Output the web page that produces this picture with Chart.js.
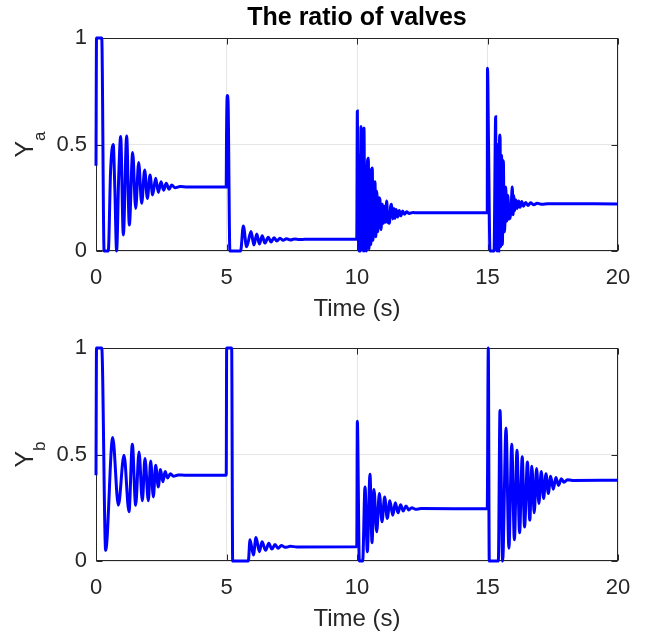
<!DOCTYPE html>
<html>
<head>
<meta charset="utf-8">
<script src="https://cdn.jsdelivr.net/npm/chart.js@4"></script>
<style>
  body { margin: 0; background: #fff; }
  #wrap { position: relative; width: 649px; height: 634px; }
  canvas { position: absolute; left: 0; }
</style>
</head>
<body>
<div id="wrap">
  <canvas id="bottomChart" width="649" height="317" style="top:317px"></canvas>
  <canvas id="topChart" width="649" height="338" style="top:0"></canvas>
</div>
<script>
// Y_a (valve a)
const timeA = [
  0, 0.02, 0.22, 0.31, 0.47, 0.56, 0.66, 0.72, 0.79, 0.87, 0.945, 1.047, 1.175, 1.277, 1.405, 1.52,
  1.635, 1.75, 1.865, 1.967, 2.07, 2.17, 2.286, 2.39, 2.49, 2.59, 2.69, 2.80, 2.90, 3.03, 3.22, 3.5, 4.99,
  5.0, 5.03, 5.06, 5.13, 5.54, 5.645, 5.77, 5.94, 6.05, 6.16, 6.26, 6.37, 6.47, 6.6, 6.71, 6.82, 6.93,
  7.05, 7.17, 7.3, 7.45, 7.6, 7.8, 8.0, 9.99,
  10.013, 10.05, 10.08, 10.11, 10.13, 10.153, 10.18, 10.21, 10.24, 10.268, 10.30, 10.33, 10.36, 10.40,
  10.434, 10.46, 10.50, 10.53, 10.56, 10.587, 10.61, 10.65, 10.689, 10.72, 10.76, 10.80, 10.84, 10.88,
  10.92, 10.97, 11.01, 11.06, 11.10, 11.136, 11.18, 11.24, 11.29, 11.327, 11.37, 11.42, 11.455, 11.50,
  11.56, 11.62, 11.68, 11.75, 11.82, 11.9, 12.0, 12.15, 12.3, 14.99,
  15.0, 15.04, 15.096, 15.25, 15.313, 15.34, 15.37, 15.40, 15.43, 15.46, 15.48, 15.51, 15.54, 15.57,
  15.607, 15.64, 15.67, 15.70, 15.74, 15.78, 15.82, 15.87, 15.91, 15.95, 15.98, 16.01, 16.05, 16.09,
  16.14, 16.19, 16.25, 16.31, 16.38, 16.46, 16.55, 16.65, 16.78, 16.9, 17.1, 17.3, 20
];
const valueA = [
  0.40, 1, 1, 0, 0, 0.38, 0.50, 0.30, 0, 0.35, 0.537, 0.075, 0.54, 0.122, 0.462, 0.20,
  0.415, 0.224, 0.38, 0.247, 0.357, 0.263, 0.341, 0.275, 0.325, 0.285, 0.318, 0.29, 0.31, 0.297, 0.303, 0.30, 0.30,
  0.53, 0.73, 0.70, 0, 0, 0.117, 0.02, 0.091, 0.028, 0.08, 0.033, 0.072, 0.037, 0.065, 0.042, 0.062, 0.047,
  0.06, 0.05, 0.058, 0.052, 0.056, 0.054, 0.055, 0.055,
  0.657, 0.10, 0, 0.45, 0, 0.584, 0.02, 0.50, 0, 0.577, 0, 0.40, 0, 0.42,
  0.435, 0.01, 0.38, 0.03, 0.36, 0.39, 0.05, 0.30, 0.325, 0.067, 0.28, 0.09, 0.25, 0.24,
  0.10, 0.22, 0.13, 0.21, 0.135, 0.235, 0.14, 0.13, 0.21, 0.22, 0.15, 0.20, 0.153, 0.195,
  0.16, 0.19, 0.165, 0.188, 0.172, 0.184, 0.176, 0.181, 0.179, 0.18,
  0.858, 0.5, 0, 0, 0.63, 0.1, 0, 0.5, 0, 0.52, 0.545, 0.02, 0.45, 0.03,
  0.424, 0.09, 0.138, 0.30, 0.14, 0.26, 0.15, 0.16, 0.22, 0.30, 0.17, 0.26, 0.19, 0.24,
  0.20, 0.235, 0.205, 0.232, 0.21, 0.228, 0.214, 0.226, 0.217, 0.224, 0.219, 0.222, 0.221
];

// Y_b (valve b)
const timeB = [
  0, 0.02, 0.22, 0.37, 0.64, 0.856, 1.073, 1.264, 1.392, 1.52, 1.648, 1.775, 1.877, 2.005, 2.095, 2.197,
  2.286, 2.388, 2.47, 2.56, 2.65, 2.74, 2.85, 2.97, 3.15, 3.4, 4.99,
  5.006, 5.198, 5.236, 5.837, 5.90, 6.03, 6.13, 6.26, 6.36, 6.5, 6.62, 6.74, 6.86, 6.98, 7.1, 7.25,
  7.45, 7.7, 9.99,
  10.013, 10.09, 10.217, 10.307, 10.396, 10.498, 10.575, 10.651, 10.754, 10.856, 10.958, 11.06, 11.16,
  11.26, 11.37, 11.47, 11.57, 11.67, 11.77, 11.88, 11.98, 12.1, 12.25, 12.45, 14.99,
  15.03, 15.07, 15.415, 15.479, 15.58, 15.71, 15.82, 15.93, 16.03, 16.13, 16.23, 16.33, 16.42, 16.53,
  16.62, 16.70, 16.79, 16.88, 16.97, 17.06, 17.15, 17.24, 17.33, 17.42, 17.52, 17.62, 17.72, 17.83,
  17.93, 18.06, 18.25, 20
];
const valueB = [
  0.403, 1, 1, 0.05, 0.58, 0.262, 0.497, 0.231, 0.548, 0.262, 0.512, 0.283, 0.481, 0.283, 0.47, 0.301,
  0.45, 0.348, 0.43, 0.372, 0.42, 0.39, 0.41, 0.398, 0.404, 0.403, 0.403,
  1, 1, 0, 0, 0.10, 0.028, 0.11, 0.044, 0.09, 0.05, 0.083, 0.056, 0.077, 0.06, 0.073, 0.064,
  0.069, 0.066, 0.067,
  0.656, 0, 0, 0.348, 0.044, 0.407, 0.086, 0.336, 0.137, 0.317, 0.184, 0.30, 0.20,
  0.283, 0.215, 0.273, 0.226, 0.264, 0.235, 0.258, 0.24, 0.25, 0.243, 0.246, 0.245,
  1, 0, 0, 0.707, 0, 0.624, 0.06, 0.548, 0.10, 0.52, 0.133, 0.489, 0.16, 0.465,
  0.192, 0.445, 0.226, 0.434, 0.27, 0.42, 0.294, 0.41, 0.317, 0.398, 0.337, 0.392, 0.355, 0.386,
  0.37, 0.382, 0.378, 0.379
];

const xTicks = [0, 5, 10, 15, 20];
const yTicks = [0, 0.5, 1];

const FONT = "'Liberation Sans', Arial, sans-serif";
const INK = '#262626';

// box, inner ticks and the texts (title, Time (s), Y with subscript)
const frame = {
  id: 'frame',
  beforeDatasetsDraw(chart, args, o) {
    const {ctx, chartArea: a, scales: {x, y}} = chart;
    const l = Math.round(a.left) + 0.5, r = Math.round(a.right) - 0.5;
    const t = Math.round(a.top) + 0.5, b = Math.round(a.bottom) - 0.5;
    ctx.save();
    ctx.strokeStyle = INK;
    ctx.lineWidth = 1;
    ctx.strokeRect(l, t, r - l, b - t);
    ctx.beginPath();
    for (const v of xTicks) {
      const px = Math.round(x.getPixelForValue(v)) + 0.5;
      ctx.moveTo(px, b); ctx.lineTo(px, b - 6);
      ctx.moveTo(px, t); ctx.lineTo(px, t + 6);
    }
    for (const v of yTicks) {
      const py = Math.round(y.getPixelForValue(v)) + 0.5;
      ctx.moveTo(l, py); ctx.lineTo(l + 6, py);
      ctx.moveTo(r, py); ctx.lineTo(r - 6, py);
    }
    ctx.stroke();
    ctx.restore();
  },
  afterDraw(chart, args, o) {
    const {ctx, chartArea: a} = chart;
    const cx = (a.left + a.right) / 2;
    const cy = (a.top + a.bottom) / 2;
    ctx.save();
    ctx.fillStyle = '#000';
    if (o.title) {
      ctx.font = 'bold 25px ' + FONT;
      ctx.textAlign = 'center';
      ctx.textBaseline = 'alphabetic';
      ctx.fillText(o.title, cx, o.titleY);
    }
    ctx.fillStyle = INK;
    ctx.font = '24px ' + FONT;
    ctx.textAlign = 'center';
    ctx.textBaseline = 'alphabetic';
    ctx.fillText('Time (s)', cx, a.bottom + 65);

    // rotated Y label with subscript
    ctx.font = '25px ' + FONT;
    const wY = ctx.measureText('Y').width;
    ctx.font = '17px ' + FONT;
    const wS = ctx.measureText(o.sub).width;
    const total = wY + wS;
    ctx.translate(33, cy);
    ctx.rotate(-Math.PI / 2);
    ctx.textAlign = 'left';
    ctx.font = '25px ' + FONT;
    ctx.fillText('Y', -total / 2, 0);
    ctx.font = '17px ' + FONT;
    ctx.fillText(o.sub, -total / 2 + wY, 12);
    ctx.restore();
  }
};

function makeChart(id, canvasH, times, values, padTop, sub, title) {
  const points = times.map((t, i) => ({x: t, y: values[i]}));
  const plotH = 213;
  return new Chart(document.getElementById(id), {
    type: 'line',
    data: {
      datasets: [{
        data: points,
        borderColor: '#0000ff',
        backgroundColor: '#0000ff',
        borderWidth: 3,
        pointRadius: 0,
        cubicInterpolationMode: 'monotone',
        fill: false,
        clip: 2
      }]
    },
    options: {
      responsive: false,
      devicePixelRatio: 1,
      animation: false,
      layout: {padding: {top: padTop, right: 31, left: 0, bottom: 0}},
      plugins: {
        legend: {display: false},
        tooltip: {enabled: false},
        frame: {sub: sub, title: title, titleY: 25}
      },
      scales: {
        x: {
          type: 'linear',
          min: 0,
          max: 20,
          afterBuildTicks: s => { s.ticks = xTicks.map(v => ({value: v})); },
          afterFit: s => { s.height = canvasH - padTop - plotH; },
          grid: {color: '#e6e6e6', drawTicks: false},
          border: {display: false},
          ticks: {font: {size: 22, family: FONT}, color: INK, padding: 14, maxRotation: 0, autoSkip: false}
        },
        y: {
          min: 0,
          max: 1,
          afterBuildTicks: s => { s.ticks = yTicks.map(v => ({value: v})); },
          afterFit: s => { s.width = 96; },
          grid: {color: '#e6e6e6', drawTicks: false},
          border: {display: false},
          ticks: {font: {size: 22, family: FONT}, color: INK, padding: 9, callback: v => String(v)}
        }
      }
    },
    plugins: [frame]
  });
}

makeChart('topChart', 338, timeA, valueA, 38, 'a', 'The ratio of valves');
makeChart('bottomChart', 317, timeB, valueB, 31, 'b', null);
</script>
</body>
</html>
